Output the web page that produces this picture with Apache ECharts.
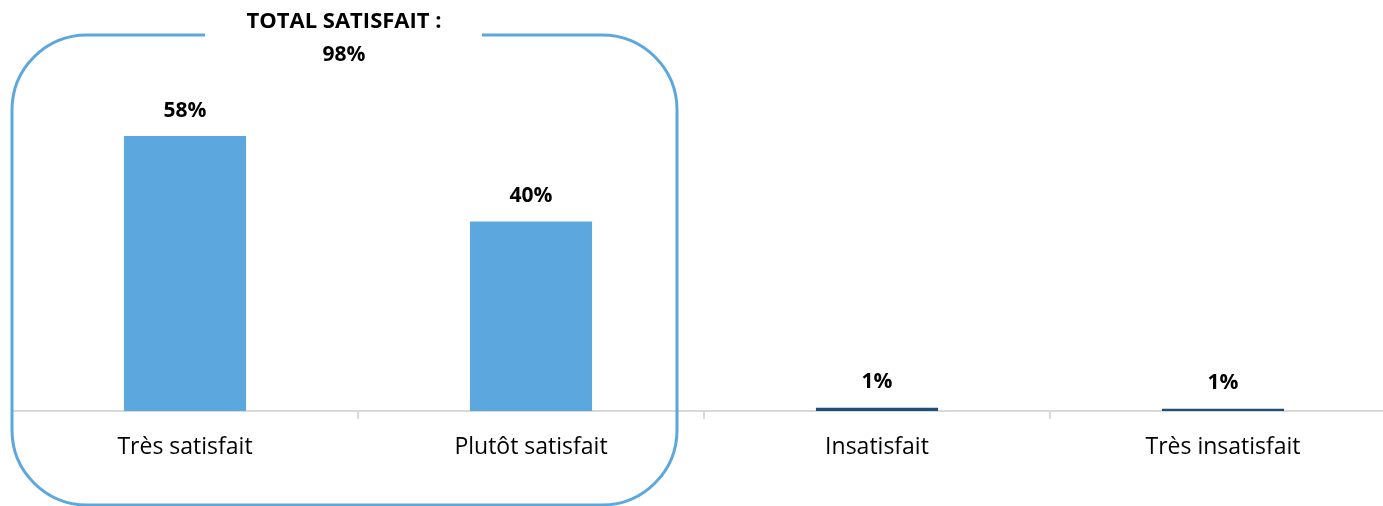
<!DOCTYPE html>
<html><head><meta charset="utf-8">
<script src="https://cdn.jsdelivr.net/npm/echarts@6/dist/echarts.min.js"></script>
<style>html,body{margin:0;padding:0;background:#fff;overflow:hidden;width:1383px;height:506px}#c{width:1396px;height:506px}</style>
</head><body><div id="c"></div>
<script>
const categories = ["Très satisfait", "Plutôt satisfait", "Insatisfait", "Très insatisfait"];
const values = [58, 40, 0.7, 0.5];
const valueLabels = ["58%", "40%", "1%", "1%"];
const barColors = ["#5DA7DF", "#5DA7DF", "#1F4E79", "#1F4E79"];
const totalTitle = "TOTAL SATISFAIT :";
const totalValue = "98%";
const yMax = 86.7;

const FONT = "Open Sans";
const chart = echarts.init(document.getElementById('c'));
const boxColor = "#5DA7DF";
chart.setOption({
  animation: false,
  grid: { left: 12, right: 0, top: 0, bottom: 95, containLabel: false },
  xAxis: {
    type: 'category', data: categories,
    axisLine: { lineStyle: { color: '#D9D9D9', width: 2 } },
    axisTick: { show: true, length: 8, lineStyle: { color: '#D9D9D9', width: 2 } },
    axisLabel: { color: '#000', fontFamily: FONT, fontSize: 23, margin: 25 }
  },
  yAxis: { type: 'value', min: 0, max: yMax, show: false },
  series: [{
    type: 'bar', barWidth: '35.3%',
    data: values.map((v, i) => ({ value: v, itemStyle: { color: barColors[i] } })),
    label: {
      show: true, position: 'top', distance: 15,
      formatter: p => valueLabels[p.dataIndex],
      fontFamily: FONT, fontWeight: 'bold', fontSize: 21, color: '#000'
    }
  }],
  graphic: [
    { type: 'rect', shape: { x: 12, y: 35, width: 665, height: 470, r: 75 },
      style: { fill: null, stroke: boxColor, lineWidth: 3 }, z: 10 },
    { type: 'rect', shape: { x: 205, y: 25, width: 277, height: 20 },
      style: { fill: '#fff' }, z: 11 },
    { type: 'text', x: 344, y: 22, style: { text: totalTitle, fontFamily: FONT, fontWeight: 'bold', fontSize: 22, fill: '#000', align: 'center', verticalAlign: 'middle' }, z: 12 },
    { type: 'text', x: 344, y: 55, style: { text: totalValue, fontFamily: FONT, fontWeight: 'bold', fontSize: 21, fill: '#000', align: 'center', verticalAlign: 'middle' }, z: 12 }
  ]
});
</script></body></html>
